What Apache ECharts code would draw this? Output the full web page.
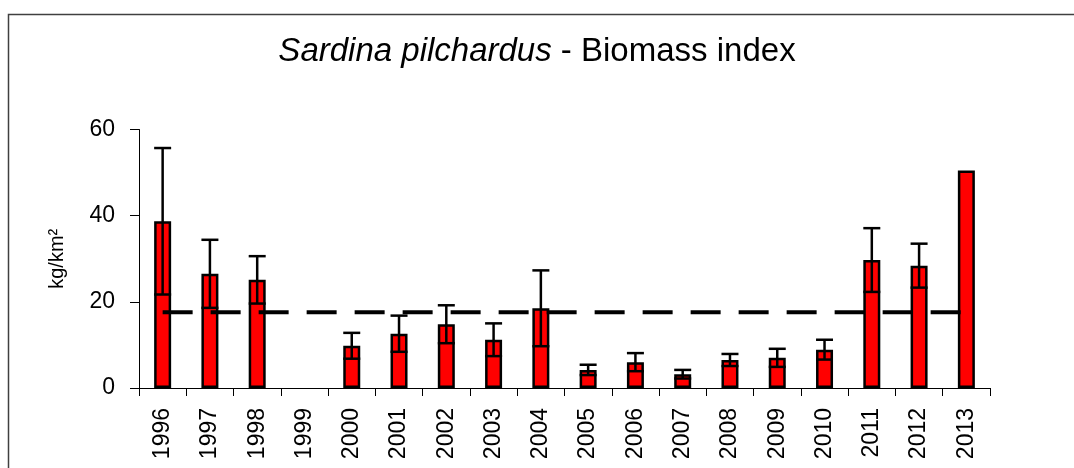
<!DOCTYPE html>
<html>
<head>
<meta charset="utf-8">
<script src="https://cdn.jsdelivr.net/npm/echarts@6/dist/echarts.min.js"></script>
<style>
  html, body { margin: 0; padding: 0; background: #fff; }
  #chart { width: 1074px; height: 468px; }
</style>
</head>
<body>
<div id="chart"></div>
<script>
const years = ['1996', '1997', '1998', '1999', '2000', '2001', '2002', '2003', '2004',
  '2005', '2006', '2007', '2008', '2009', '2010', '2011', '2012', '2013']
// biomass index, kg/km2 (1999 not surveyed)
const biomass = [38.7, 26.5, 25.1, null, 9.8, 12.6, 14.8, 11.2, 18.5,
  4.2, 6.0, 3.2, 6.5, 7.0, 8.9, 29.7, 28.4, 50.5]
// half length of the error bars
const errors = [17.0, 7.9, 5.5, null, 3.0, 4.2, 4.4, 3.8, 8.8,
  1.2, 2.1, 1.0, 1.4, 2.1, 2.3, 7.4, 5.1, null]
const meanValue = 17.6
const yTicks = [0, 20, 40, 60]

const font = "'Liberation Sans', Arial, sans-serif"

const errorData = []
biomass.forEach((v, i) => {
  if (v != null && errors[i] != null) {
    errorData.push([i, v - errors[i], v + errors[i]])
  }
})
const meanData = years.map(() => meanValue)

const chart = echarts.init(document.getElementById('chart'))
const option = {
  animation: false,
  backgroundColor: '#fff',
  textStyle: { fontFamily: font, color: '#000' },
  title: {
    left: 'center',
    top: 30,
    text: '{i|Sardina pilchardus}{n| - Biomass index}',
    textStyle: {
      fontWeight: 'normal',
      rich: {
        i: { fontFamily: font, fontSize: 33, fontStyle: 'italic', fontWeight: 'normal', color: '#000' },
        n: { fontFamily: font, fontSize: 33, fontWeight: 'normal', color: '#000' }
      }
    }
  },
  graphic: [
    {
      type: 'rect',
      shape: { x: 8.5, y: 14.5, width: 1200, height: 600 },
      style: { fill: 'none', stroke: '#404040', lineWidth: 1.5 },
      silent: true
    }
  ],
  grid: {
    left: 139,
    right: 84,
    top: 129.5,
    bottom: 80
  },
  xAxis: {
    type: 'category',
    data: years,
    axisLine: { lineStyle: { color: '#000', width: 1 } },
    axisTick: { show: true, length: 8, interval: 0, lineStyle: { color: '#000' } },
    axisLabel: {
      interval: 0,
      rotate: 90,
      margin: 20,
      fontSize: 23,
      color: '#000',
      fontFamily: font
    }
  },
  yAxis: {
    type: 'value',
    min: yTicks[0],
    max: yTicks[yTicks.length - 1],
    interval: 20,
    name: 'kg/km²',
    nameLocation: 'middle',
    nameRotate: 90,
    nameGap: 72,
    nameTextStyle: { fontSize: 20, color: '#000', fontFamily: font },
    axisLine: { show: true, lineStyle: { color: '#000', width: 1 } },
    axisTick: { show: true, length: 9, lineStyle: { color: '#000' } },
    splitLine: { show: false },
    axisLabel: { fontSize: 23, margin: 24, color: '#000', fontFamily: font }
  },
  series: [
    {
      name: 'Biomass',
      type: 'bar',
      data: biomass,
      barWidth: 17,
      itemStyle: { color: '#ff0000', borderColor: '#000', borderWidth: 2.5 },
      z: 2
    },
    {
      name: 'Mean',
      type: 'line',
      data: meanData,
      symbol: 'none',
      lineStyle: { color: '#000', width: 4, type: [30, 18], cap: 'butt' },
      z: 3
    },
    {
      name: 'Error',
      type: 'custom',
      data: errorData,
      z: 4,
      renderItem: function (params, api) {
        const x = api.value(0)
        const lo = api.coord([x, api.value(1)])
        const hi = api.coord([x, api.value(2)])
        const half = 8.5
        const style = { stroke: '#000', lineWidth: 2.5, fill: 'none' }
        return {
          type: 'group',
          children: [
            { type: 'line', shape: { x1: hi[0], y1: hi[1], x2: lo[0], y2: lo[1] }, style: style },
            { type: 'line', shape: { x1: hi[0] - half, y1: hi[1], x2: hi[0] + half, y2: hi[1] }, style: style },
            { type: 'line', shape: { x1: lo[0] - half, y1: lo[1], x2: lo[0] + half, y2: lo[1] }, style: style }
          ]
        }
      }
    }
  ]
}
chart.setOption(option)
</script>
</body>
</html>
